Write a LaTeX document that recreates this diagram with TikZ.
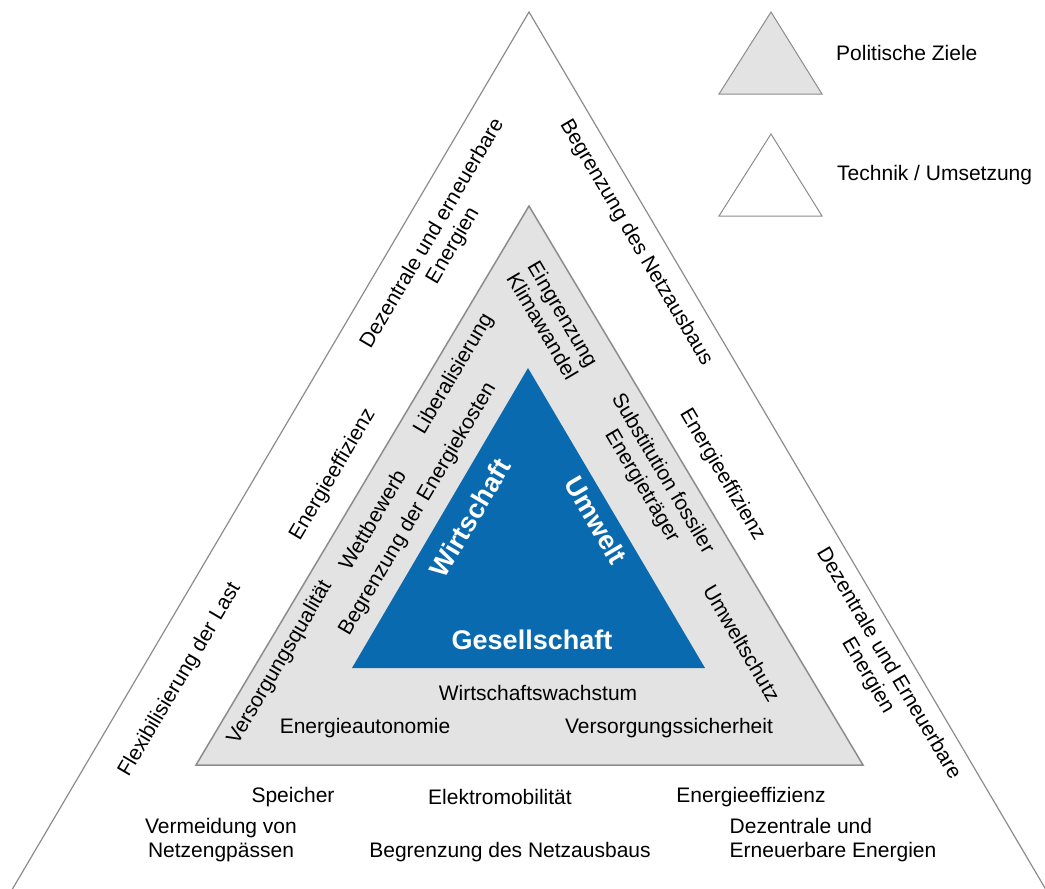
\documentclass[tikz,border=0pt]{standalone}
\usepackage{fontspec}
\setmainfont{Liberation Sans}
\usetikzlibrary{positioning}

\definecolor{kernblau}{RGB}{10,106,176}
\definecolor{ringgrau}{RGB}{227,227,227}
\definecolor{liniengrau}{RGB}{140,140,140}

\begin{document}
\begin{tikzpicture}[x=1pt,y=-1pt,
    text node/.style={font=\fontsize{21}{24}\selectfont,align=center,inner sep=0pt},
    left side/.style={text node,rotate=59.5},
    right side/.style={text node,rotate=-59.5},
    core node/.style={font=\fontsize{27}{29}\selectfont\bfseries,text=white,inner sep=0pt},
    legend box/.style={draw=liniengrau,line width=1pt}]

  \useasboundingbox (0,0) rectangle (1045,889);
  \clip (0,0) rectangle (1045,889);

  % triangles
  \coordinate (outer top) at (529,12);
  \draw[liniengrau,line width=1.2pt] (-60,1012) -- (outer top) -- (1118,1012);

  \coordinate (ring top) at (529,206);
  \coordinate (ring left) at (196,765);
  \coordinate (ring right) at (863,765);
  \filldraw[fill=ringgrau,draw=liniengrau,line width=1.5pt]
    (ring left) -- (ring top) -- (ring right) -- cycle;

  \coordinate (core top) at (528,368);
  \coordinate (core left) at (352,668);
  \coordinate (core right) at (705,668);
  \fill[kernblau] (core left) -- (core top) -- (core right) -- cycle;

  % legend
  \filldraw[legend box,fill=ringgrau] (719,94) -- (771,12) -- (822,94) -- cycle;
  \filldraw[legend box,fill=white] (719,216) -- (771,134) -- (822,216) -- cycle;
  \node[text node,anchor=west] (ziele) at (836,53) {Politische Ziele};
  \node[text node,anchor=west] (technik) at (837,175) {Technik / Umsetzung};

  % core
  \node[core node,rotate=59.5] (wirtschaft) at (470,518) {Wirtschaft};
  \node[core node,rotate=-59.5] (umwelt) at (596,520) {Umwelt};
  \node[core node] (gesellschaft) at (532,640) {Gesellschaft};

  % political goals
  \node[left side] (liberal) at (454,374) {Liberalisierung};
  \node[left side] (wettbewerb) at (372,520) {Wettbewerb};
  \node[left side] (kosten) at (418,509) {Begrenzung der Energiekosten};
  \node[left side] (qualitaet) at (280,663) {Versorgungsqualität};
  \node[right side] (klima) at (553,320) {Eingrenzung\\Klimawandel};
  \node[right side] (fossil) at (652,480) {Substitution fossiler\\Energieträger};
  \node[right side] (schutz) at (742,643) {Umweltschutz};
  \node[text node] (wachstum) at (538,693) {Wirtschaftswachstum};
  \node[text node] (autonomie) at (365,728) {Energieautonomie};
  \node[text node] (sicherheit) at (669,728) {Versorgungssicherheit};

  % technology
  \node[left side] (dezentral l) at (443,240) {Dezentrale und erneuerbare\\Energien};
  \node[left side] (effizienz l) at (333,475) {Energieeffizienz};
  \node[left side] (last) at (180,680) {Flexibilisierung der Last};
  \node[right side] (netz r) at (636,243) {Begrenzung des Netzausbaus};
  \node[right side] (effizienz r) at (722,475) {Energieeffizienz};
  \node[right side] (dezentral r) at (878,670) {Dezentrale und Erneuerbare\\Energien};
  \node[text node] (speicher) at (293,797) {Speicher};
  \node[text node] (mobil) at (500,797) {Elektromobilität};
  \node[text node] (effizienz u) at (751,797) {Energieeffizienz};
  \node[text node] (engpass) at (221,840) {Vermeidung von\\Netzengpässen};
  \node[text node] (netz u) at (510,852) {Begrenzung des Netzausbaus};
  \node[text node,align=left] (dezentral u) at (833,840) {Dezentrale und\\Erneuerbare Energien};

\end{tikzpicture}
\end{document}
